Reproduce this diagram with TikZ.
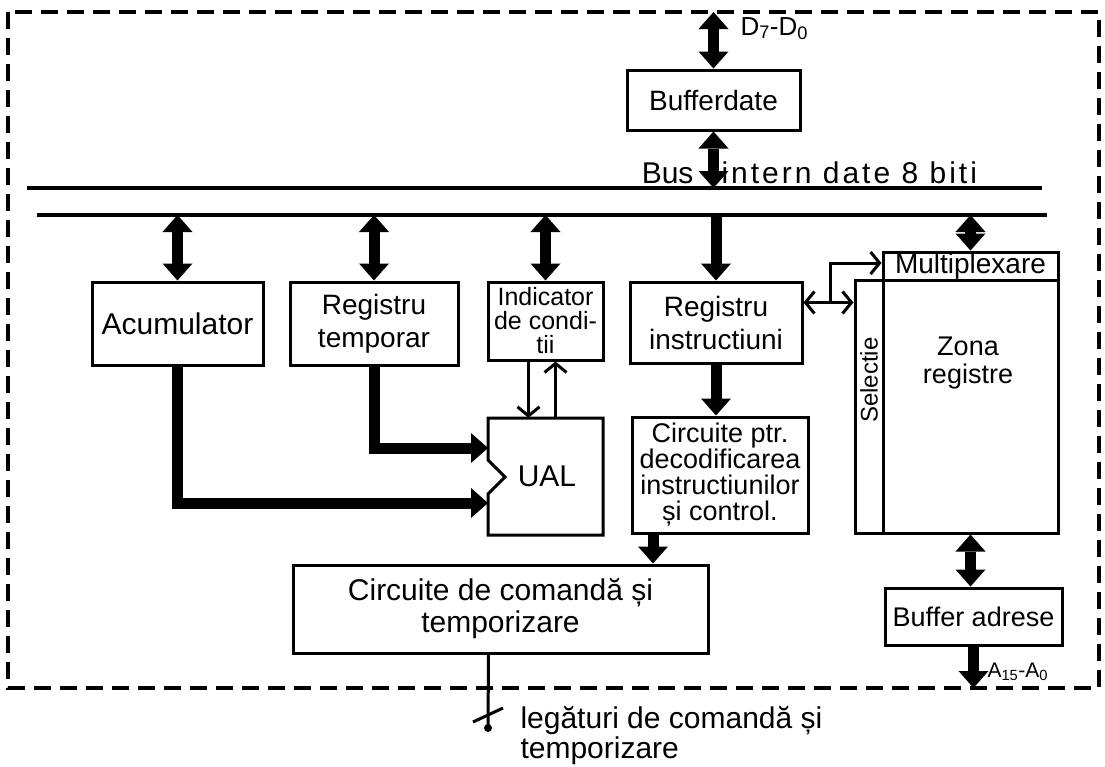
\documentclass[tikz,border=0pt]{standalone}
\usepackage{fontspec}
\setmainfont{Liberation Sans}
\usetikzlibrary{arrows.meta}

\begin{document}
\begin{tikzpicture}[x=1pt, y=-1pt, font=\fontsize{28}{33}\selectfont,
  blk/.style={draw, line width=3pt, inner sep=0pt, align=center},
  fat/.style={line width=11pt, -{Triangle[length=17pt,width=30pt,line width=0pt]}},
  fatboth/.style={line width=11pt, {Triangle[length=17pt,width=30pt,line width=0pt]}-{Triangle[length=17pt,width=30pt,line width=0pt]}},
  sig/.style={line width=3pt, -{Straight Barb[length=9pt,width=22pt]}},
  sigboth/.style={line width=3pt, {Straight Barb[length=9pt,width=22pt]}-{Straight Barb[length=9pt,width=22pt]}},
  bus/.style={line width=4pt}]
  \useasboundingbox (0,0) rectangle (1105,766);

  % chip outline
  \draw[line width=4pt, dash pattern=on 17pt off 9pt] (8,12) rectangle (1099,688);
  \coordinate (edgeN) at (0,12);
  \coordinate (edgeS) at (0,688);

  % internal data bus
  \coordinate (busAw) at (27,188);  \coordinate (busAe) at (1042,188);
  \coordinate (busBw) at (37,215);  \coordinate (busBe) at (1047,215);
  \draw[bus] (busAw) -- (busAe);
  \draw[bus] (busBw) -- (busBe);

  % blocks
  \node[blk, minimum width=173pt, minimum height=60pt] (bdate) at (713.5,100) {Bufferdate};
  \node[blk, minimum width=171pt, minimum height=83pt, font=\fontsize{30}{33}\selectfont] (acc) at (177.5,323.5) {Acumulator};
  \node[blk, minimum width=168pt, minimum height=83pt] (tmp) at (374,323.5) {Registru\\temporar};
  \node[blk, minimum width=115pt, minimum height=78pt, font=\fontsize{25}{24}\selectfont] (ind) at (545.5,321) {Indicator\\de condi-\\tii};
  \node[blk, minimum width=172pt, minimum height=81pt] (ri) at (716,322.5) {Registru\\instructiuni};
  \node[blk, minimum width=176pt, minimum height=116pt, font=\fontsize{27}{26}\selectfont] (cpd) at (720,475) {Circuite ptr.\\decodificarea\\instructiunilor\\și control.};
  \node[blk, minimum width=415pt, minimum height=88pt, font=\fontsize{30}{32}\selectfont] (cct) at (500.5,609) {Circuite de comandă și\\temporizare};

  % register file
  \node[blk, minimum width=175pt, minimum height=28pt] (mux) at (970.5,266) {Multiplexare};
  \node[blk, minimum width=28pt, minimum height=253pt] (sel) at (869,406.5) {};
  \node[blk, minimum width=175pt, minimum height=253pt] (zona) at (970.5,406.5) {};
  \node[rotate=90, font=\fontsize{24}{24}\selectfont] (seltxt) at (869,380) {Selectie};
  \node[align=center, font=\fontsize{27}{28}\selectfont] (zonatxt) at (968,363) {Zona\\registre};
  \node[blk, minimum width=177pt, minimum height=57pt, font=\fontsize{27}{30}\selectfont] (badr) at (973.5,616.5) {Buffer adrese};

  % ALU
  \node[minimum width=115pt, minimum height=117pt, font=\fontsize{30}{30}\selectfont] (ual) at (547,476.5) {UAL};
  \draw[line width=3pt] (488,418) -- (603,418) -- (603,535) -- (488,535) -- (488,494)
    -- (505,477) -- (488,460) -- cycle;
  \coordinate (ualA) at (488,448);
  \coordinate (ualB) at (488,503);

  % labels
  \node[anchor=base east, font=\fontsize{30}{30}\selectfont] (bustxt) at (697,183) {Bus};
  \node[anchor=base west, font=\fontsize{30}{30}\selectfont\addfontfeature{LetterSpace=10}] (busname) at (718,183) {intern date 8 biti};
  \node[anchor=base west, font=\fontsize{26}{26}\selectfont] (dlab) at (737,35) {D\textsubscript{7}-D\textsubscript{0}};
  \node[anchor=base west, font=\fontsize{21}{21}\selectfont] (alab) at (984,677) {A\textsubscript{15}-A\textsubscript{0}};
  \node[anchor=north west, align=left, font=\fontsize{30}{30}\selectfont] (ctllab) at (517,703) {legături de comandă și\\temporizare};

  % data path
  \draw[fatboth] (edgeN -| bdate.north) -- (bdate.north);
  \draw[fatboth] (bdate.south) -- (busAw -| bdate.south);
  \draw[fatboth] (busBw -| acc.north) -- (acc.north);
  \draw[fatboth] (busBw -| tmp.north) -- (tmp.north);
  \draw[fatboth] (busBw -| ind.north) -- (ind.north);
  \draw[fat] (busBw -| ri.north) -- (ri.north);
  \draw[fatboth] (busBw -| mux.north) -- (mux.north);
  \draw[fat] (tmp.south) |- (ualA);
  \draw[fat] (acc.south) |- (ualB);
  \draw[fat] (ri.south) -- (ri.south |- cpd.north);
  \draw[fat] ([xshift=-67pt]cpd.south) -- ([xshift=-67pt]cpd.south |- cct.north);
  \draw[fatboth] (zona.south) -- (zona.south |- badr.north);
  \draw[fat] (badr.south) -- (badr.south |- edgeS);

  % flags <-> ALU
  \draw[sig] ([xshift=-17pt]ind.south) -- ([xshift=-17pt]ind.south |- ual.north);
  \draw[sig] ([xshift=10pt]ind.south |- ual.north) -- ([xshift=10pt]ind.south);

  % instruction register -> register select
  \coordinate (ribr) at (830,302);
  \draw[sigboth] ([yshift=20pt]ri.east) -- ([yshift=20pt]ri.east -| sel.west);
  \draw[sig] (ribr) |- ([yshift=3pt]mux.west);

  % control lines out
  \coordinate (ctlend) at (488,728);
  \draw[line width=3pt] ([xshift=-12pt]cct.south) -- (ctlend);
  \fill (ctlend) circle (4pt);
  \draw[line width=3pt] (473,722) -- (503,708);
\end{tikzpicture}
\end{document}
